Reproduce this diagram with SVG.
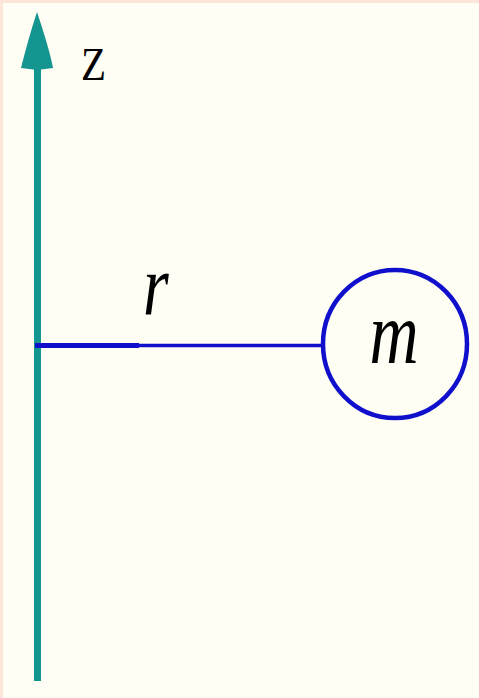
<svg xmlns="http://www.w3.org/2000/svg" width="479" height="698" viewBox="0 0 479 698">
<style>
.axis{stroke:#14958f;stroke-width:7;fill:none}
.head{fill:#14958f}
.blue{stroke:#1010cc;fill:none}
.lbl{font-family:"Liberation Serif","Times New Roman",serif;fill:#000}
.it{font-style:italic}
</style>
<rect x="0" y="0" width="479" height="698" fill="#fde6d8"/>
<rect x="3" y="3" width="476" height="695" fill="#fffef5"/>
<g id="connectors">
<line class="axis" x1="37.5" y1="66" x2="37.5" y2="681"/>
<path class="head" d="M37,12 C43,30 50,52 53,68 L37,70 L21,68 C25,52 31,30 37,12 Z"/>
<line class="blue" x1="35" y1="345.5" x2="139" y2="345.5" stroke-width="5"/>
<line class="blue" x1="139" y1="345.5" x2="324" y2="345.5" stroke-width="3.5"/>
</g>
<g id="axis-label">
<text class="lbl" x="0" y="0" font-size="41" transform="translate(81,80) scale(1,1.15)">Z</text>
</g>
<g id="r-label">
<text class="lbl it" x="0" y="0" font-size="66" transform="translate(143,315) scale(1,1.3)">r</text>
</g>
<g id="mass">
<ellipse class="blue" cx="395" cy="344" rx="72" ry="74" stroke-width="4.5"/>
<text class="lbl it" x="0" y="0" font-size="68" text-anchor="middle" transform="translate(394,363) scale(1,1.3)">m</text>
</g>
</svg>
